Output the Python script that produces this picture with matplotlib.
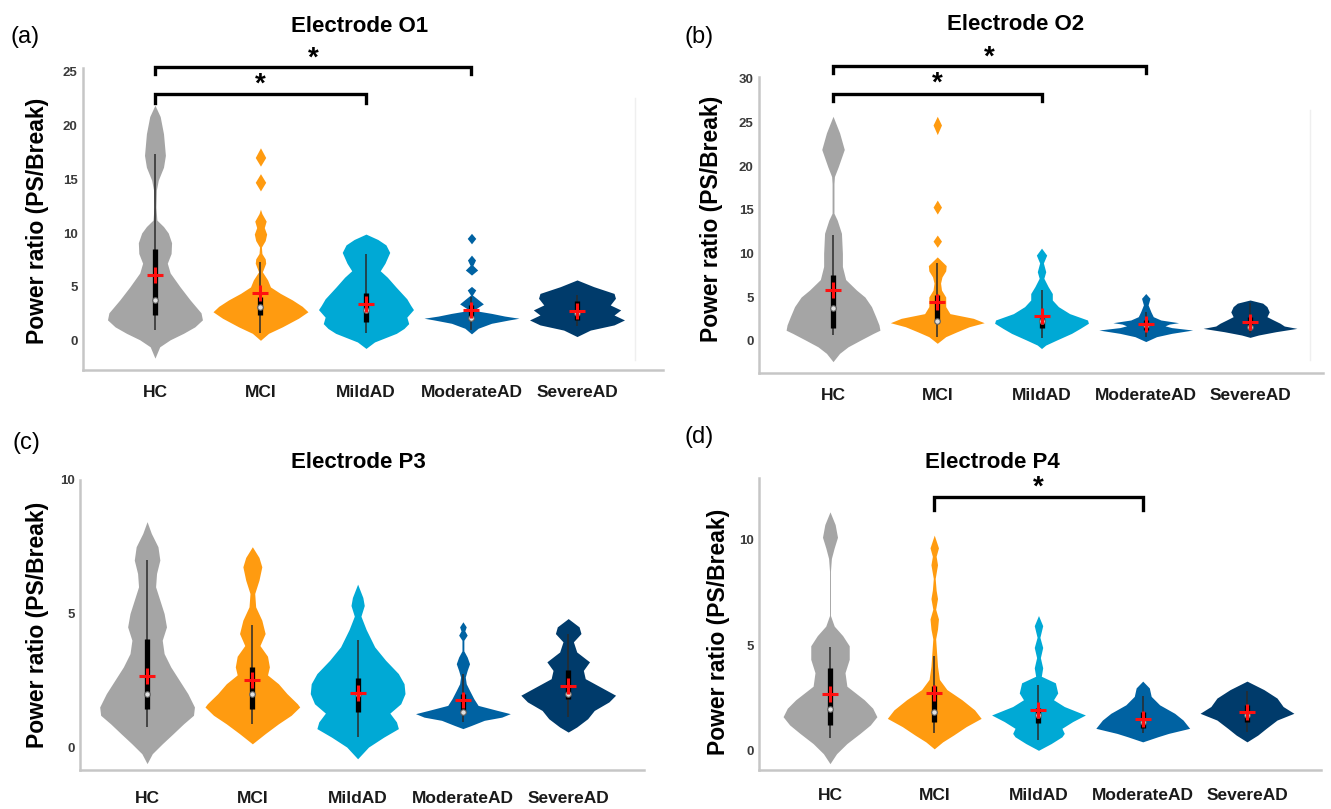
import matplotlib
matplotlib.use("Agg")
import matplotlib.pyplot as plt
from matplotlib import font_manager

# groups and colours
groups = ["HC", "MCI", "MildAD", "ModerateAD", "SevereAD"]
colors = ["#a5a5a5", "#ff9b10", "#00a9d5", "#0062a2", "#003b6b"]

# violin outlines: (value, relative half width)
o1_hc = [(-1.6, 0), (-0.55, .10), (0.1, .32), (0.7, .60), (1.3, .84), (1.95, 1.0), (2.6, .97),
         (3.8, .74), (5.0, .53), (6.3, .32), (7.2, .26), (8.1, .34), (9.1, .35), (10.0, .28),
         (10.6, .18), (11.2, .04), (12.4, .02), (14.0, .03), (14.9, .07), (16.1, .18),
         (17.2, .22), (19.2, .18), (20.8, .11), (21.85, 0)]
o1_mci = [(0.05, 0), (0.7, .17), (1.3, .46), (2.1, .80), (2.7, 1.0), (3.2, .88), (3.8, .67),
          (4.4, .42), (5.0, .21), (5.65, .15), (6.4, .04), (7.2, .11), (7.6, .10), (8.1, .03),
          (8.7, .02), (9.3, .10), (9.9, .13), (10.5, .08), (11.1, .12), (11.8, .03), (12.2, 0),
          (13.9, 0), (14.7, .11), (15.5, 0), (16.2, 0), (17.0, .11), (17.9, 0)]
o1_mild = [(-0.7, 0), (-0.1, .18), (0.7, .64), (1.15, .80), (1.6, .90), (2.2, .86), (2.9, 1.0),
           (3.3, .94), (3.9, .86), (5.0, .63), (5.9, .45), (6.5, .30), (7.2, .40), (8.2, .50),
           (8.9, .42), (9.4, .25), (9.9, 0)]
o1_mod = [(0.65, 0), (1.17, .14), (1.63, .42), (1.95, .80), (2.1, 1.0), (2.3, .70), (2.55, .42),
          (2.75, .15), (3.0, .10), (3.43, .25), (3.9, .12), (4.25, .02), (4.72, .09), (5.05, 0),
          (6.1, 0), (6.57, .13), (7.0, .03), (7.5, .085), (7.95, 0), (9.0, 0), (9.5, .09), (9.97, 0)]
o1_sev = [(0.4, 0), (1.0, .28), (1.48, .78), (1.94, 1.0), (2.4, .78), (2.87, .92), (3.33, .70),
          (3.95, .81), (4.4, .78), (5.03, .35), (5.65, 0)]

o2_hc = [(-2.4, 0), (-1.45, .14), (-0.7, .32), (0.08, .59), (0.84, .86), (1.2, 1.0), (1.8, .98),
         (2.75, .91), (3.9, .82), (5.0, .68), (5.8, .50), (7.0, .27), (8.5, .20), (10.0, .20),
         (12.3, .18), (13.8, .09), (14.6, .02), (18.0, .02), (18.8, .03), (19.9, .11),
         (21.9, .24), (23.8, .14), (25.7, 0)]
o2_mci = [(-0.3, 0), (0.46, .18), (1.0, .41), (1.6, .68), (2.06, 1.0), (2.56, .77), (3.1, .27),
          (3.9, .18), (5.0, .18), (5.8, .09), (6.6, .07), (7.3, .10), (8.0, .18), (8.6, .19),
          (9.6, 0), (10.7, 0), (11.4, .09), (12.1, 0), (14.5, 0), (15.3, .09), (16.1, 0),
          (23.6, 0), (24.7, .09), (25.7, 0)]
o2_mild = [(-0.9, 0), (-0.5, .09), (0.07, .32), (0.84, .64), (1.4, .82), (2.0, 1.0), (2.37, .98),
           (3.1, .60), (3.9, .36), (4.66, .23), (5.4, .23), (6.2, .14), (7.15, .05), (7.9, .09),
           (8.9, .04), (9.8, .11), (10.6, 0)]
o2_mod = [(-0.1, 0), (0.46, .23), (0.84, .55), (1.22, 1.0), (1.5, .55), (1.7, .41), (1.9, .50),
          (2.06, .70), (2.37, .32), (2.75, .16), (3.3, .11), (4.1, .05), (4.85, .09), (5.4, 0)]
o2_sev = [(0.38, 0), (0.65, .18), (1.03, .55), (1.41, 1.0), (1.68, .73), (2.0, .64), (2.37, .50),
          (2.75, .36), (3.3, .41), (3.9, .36), (4.3, .27), (4.66, 0)]

p3_hc = [(-0.62, 0), (-0.25, .11), (0.12, .32), (0.5, .55), (0.87, .77), (1.19, .98), (1.5, 1.0),
         (2.0, .86), (2.5, .68), (3.0, .50), (3.5, .36), (4.0, .32), (4.5, .41), (5.0, .36),
         (5.5, .27), (6.0, .18), (6.5, .20), (7.0, .27), (7.5, .23), (8.0, .09), (8.44, 0)]
p3_mci = [(0.12, 0), (0.5, .27), (0.87, .55), (1.19, .82), (1.5, 1.0), (1.62, .95), (2.0, .73),
          (2.37, .55), (2.7, .32), (3.0, .36), (3.4, .32), (3.8, .16), (4.25, .27), (4.75, .20),
          (5.25, .07), (5.75, .05), (6.25, .14), (6.75, .20), (7.1, .14), (7.5, 0)]
p3_mild = [(-0.44, 0), (0.0, .23), (0.37, .55), (0.69, .86), (0.94, .82), (1.27, .68), (1.62, .91),
           (2.0, 1.0), (2.37, .98), (2.75, .86), (3.25, .59), (3.75, .36), (4.4, .18), (4.9, .07),
           (5.3, .14), (5.6, .11), (6.1, 0)]
p3_mod = [(0.69, 0), (0.81, .18), (1.0, .45), (1.12, .82), (1.25, 1.0), (1.37, .73), (1.56, .32),
          (1.81, .23), (2.12, .14), (2.37, .07), (2.62, .05), (2.87, .09), (3.12, .14), (3.37, .09),
          (3.6, .02), (4.0, .02), (4.19, .09), (4.35, .04), (4.5, .07), (4.69, 0)]
p3_sev = [(0.56, 0), (0.75, .18), (1.06, .41), (1.37, .55), (1.69, .86), (1.94, 1.0), (2.25, .68),
          (2.56, .36), (2.87, .32), (3.19, .45), (3.56, .18), (3.94, .11), (4.25, .27), (4.5, .23),
          (4.81, 0)]

p4_hc = [(-0.6, 0), (-0.13, .14), (0.35, .36), (0.83, .64), (1.23, .86), (1.62, 1.0), (2.02, .91),
         (2.42, .73), (3.06, .36), (3.7, .32), (4.33, .41), (4.97, .41), (5.45, .27), (5.9, .09),
         (6.4, .01), (8.5, .01), (9.1, .03), (9.6, .09), (10.1, .16), (10.7, .11), (11.3, 0)]
p4_mci = [(0.1, 0), (0.43, .18), (0.75, .41), (1.15, .68), (1.54, 1.0), (1.94, .86), (2.42, .59),
          (2.9, .27), (3.38, .11), (4.0, .07), (4.65, .05), (5.3, .03), (5.76, .07), (6.24, .09),
          (6.7, .03), (7.2, .07), (7.6, .04), (8.15, .02), (8.8, .07), (9.2, .04), (9.6, .09),
          (10.2, 0)]
p4_mild = [(0.03, 0), (0.35, .27), (0.67, .50), (0.83, .55), (1.07, .50), (1.39, .73), (1.7, 1.0),
           (2.1, .55), (2.42, .32), (2.74, .41), (3.22, .36), (3.53, .06), (3.93, .09), (4.41, .04),
           (4.89, .09), (5.37, .03), (5.92, .09), (6.4, 0)]
p4_mod = [(0.43, 0), (0.67, .32), (0.83, .55), (1.07, 1.0), (1.46, .86), (1.78, .68), (2.18, .36),
          (2.58, .18), (2.98, .14), (3.3, 0)]
p4_sev = [(0.43, 0), (0.75, .23), (1.07, .41), (1.46, .64), (1.78, 1.0), (2.1, .77), (2.5, .64),
          (2.9, .36), (3.3, 0)]

# whisker (low, high), box (q1, q3), median, mean per group
o1_whisker = [(1.0, 17.3), (0.7, 7.3), (0.7, 8.1), (1.0, 4.1), (1.4, 4.3)]
o1_box = [(2.4, 8.5), (2.4, 4.1), (1.75, 4.45), (1.9, 3.3), (1.9, 3.7)]
o1_median = [3.8, 3.1, 2.9, 2.1, 2.6]
o1_mean = [6.1, 4.45, 3.4, 2.9, 2.8]

o2_whisker = [(0.65, 12.1), (0.46, 8.9), (0.27, 5.8), (0.46, 3.3), (0.84, 4.3)]
o2_box = [(1.4, 7.5), (2.2, 5.2), (1.4, 2.56), (1.2, 2.4), (1.4, 2.75)]
o2_median = [3.7, 2.2, 2.2, 1.8, 1.6]
o2_mean = [5.8, 4.4, 2.83, 1.95, 2.15]

p3_whisker = [(0.75, 7.0), (0.87, 4.56), (0.37, 4.0), (0.94, 2.75), (1.12, 4.25)]
p3_box = [(1.44, 4.06), (1.44, 3.0), (1.31, 2.6), (1.31, 2.0), (1.81, 2.9)]
p3_median = [1.98, 1.98, 2.0, 1.31, 1.98]
p3_mean = [2.65, 2.52, 2.02, 1.75, 2.29]

p4_whisker = [(0.59, 4.89), (0.83, 4.49), (0.51, 3.14), (0.83, 2.58), (0.91, 2.82)]
p4_box = [(1.23, 3.93), (1.39, 3.06), (1.31, 2.02), (1.07, 1.86), (1.39, 2.18)]
p4_median = [1.97, 1.82, 1.7, 1.39, 1.7]
p4_mean = [2.7, 2.74, 1.94, 1.51, 1.86]

# significance brackets: (group from, group to)
o1_pairs = [(1, 3), (1, 4)]
o2_pairs = [(1, 3), (1, 4)]
p4_pairs = [(2, 4)]

W, H = 1331, 809
fig = plt.figure(figsize=(W / 100, H / 100), dpi=100)

names = {f.name for f in font_manager.fontManager.ttflist}
if "Liberation Sans Narrow" in names:
    xfont, xsize = "Liberation Sans Narrow", 15
else:
    xfont, xsize = "Liberation Sans", 12.5
plt.rcParams["font.family"] = ["Liberation Sans", "DejaVu Sans"]


def px(x, y):
    return x / W, 1 - y / H


def panel(rect, xlim, ylim, yticks, profiles, whisker, box, median, mean,
          pairs, bracket_y, title, title_xy, label, label_xy, ylab_xy, xpad):
    l, t, r, b = rect
    ax = fig.add_axes([l / W, 1 - b / H, (r - l) / W, (b - t) / H])
    half = 0.45
    for i, prof in enumerate(profiles):
        pos = i + 1
        ys = [p[0] for p in prof]
        ws = [p[1] * half for p in prof]
        ax.fill_betweenx(ys, [pos - w for w in ws], [pos + w for w in ws],
                         color=colors[i], lw=0, zorder=2)
        ax.plot([pos, pos], whisker[i], color="#2b2b2b", lw=1.1, zorder=3,
                solid_capstyle="butt")
        ax.plot([pos, pos], box[i], color="black", lw=3.8, zorder=4,
                solid_capstyle="butt")
        ax.plot(pos, median[i], "o", ms=4, mfc="#e0e0e0", mec="#606060",
                mew=0.8, zorder=5)
        ax.plot(pos, mean[i], "+", ms=11, color="#ff1010", mew=2.2, zorder=6)

    for k, (g1, g2) in enumerate(pairs):
        yb, drop, ys = bracket_y[k]
        ax.plot([g1, g1, g2, g2], [yb - drop, yb, yb, yb - drop], color="black",
                lw=2.4, clip_on=False, zorder=7, solid_joinstyle="miter")
        ax.text((g1 + g2) / 2, ys, "*", ha="center", va="center", fontsize=20,
                fontweight="bold", clip_on=False)

    ax.set_xlim(*xlim)
    ax.set_ylim(*ylim)
    ax.set_yticks(yticks)
    ax.set_yticklabels([str(v) for v in yticks], fontsize=9.5,
                       fontweight="bold", color="#3a3a3a")
    ax.set_xticks(range(1, 6))
    ax.set_xticklabels(groups, fontsize=xsize, fontweight="bold", family=xfont,
                       color="#1a1a1a")
    ax.tick_params(length=0)
    ax.tick_params(axis="y", pad=4)
    ax.tick_params(axis="x", pad=xpad)
    for s in ["top", "right"]:
        ax.spines[s].set_visible(False)
    for s in ["left", "bottom"]:
        ax.spines[s].set_color("#c6c6c6")
        ax.spines[s].set_linewidth(1.8)

    fig.text(*px(*title_xy), title, ha="center", va="center", fontsize=16,
             fontweight="bold")
    fig.text(*px(*label_xy), label, ha="center", va="center", fontsize=17)
    fig.text(*px(*ylab_xy), "Power ratio (PS/Break)", ha="center", va="center",
             rotation=90, fontsize=16.5, fontweight="bold")
    return ax


ax_a = panel((83, 68, 663, 370), (0.318, 5.815), (-2.7, 25.3), [0, 5, 10, 15, 20, 25],
             [o1_hc, o1_mci, o1_mild, o1_mod, o1_sev], o1_whisker, o1_box, o1_median, o1_mean,
             o1_pairs, [(22.9, 0.8, 23.8), (25.4, 0.7, 26.2)],
             "Electrode O1", (360, 27), "(a)", (25, 37), (38, 221), 11)
ax_a.plot([0.952, 0.952], [0.033, 0.9], transform=ax_a.transAxes, color="#efefef", lw=1)

ax_b = panel((759, 77, 1323, 373), (0.29, 5.70), (-3.7, 30.2), [0, 5, 10, 15, 20, 25, 30],
             [o2_hc, o2_mci, o2_mild, o2_mod, o2_sev], o2_whisker, o2_box, o2_median, o2_mean,
             o2_pairs, [(28.2, 0.8, 29.4), (31.5, 0.8, 32.4)],
             "Electrode O2", (1016, 25), "(b)", (699, 37), (712, 219), 11)
ax_b.plot([0.977, 0.977], [0.044, 0.89], transform=ax_b.transAxes, color="#efefef", lw=1)

panel((80, 480, 644, 770), (0.363, 5.72), (-0.86, 10), [0, 5, 10],
      [p3_hc, p3_mci, p3_mild, p3_mod, p3_sev], p3_whisker, p3_box, p3_median, p3_mean,
      [], [], "Electrode P3", (358, 462), "(c)", (26, 443), (38, 625), 15)

panel((759, 478, 1321, 770), (0.319, 5.71), (-0.9, 12.9), [0, 5, 10],
      [p4_hc, p4_mci, p4_mild, p4_mod, p4_sev], p4_whisker, p4_box, p4_median, p4_mean,
      p4_pairs, [(12.0, 0.6, 12.45)],
      "Electrode P4", (992, 463), "(d)", (699, 437), (719, 632), 13)

fig.savefig("out.png", dpi=100)
